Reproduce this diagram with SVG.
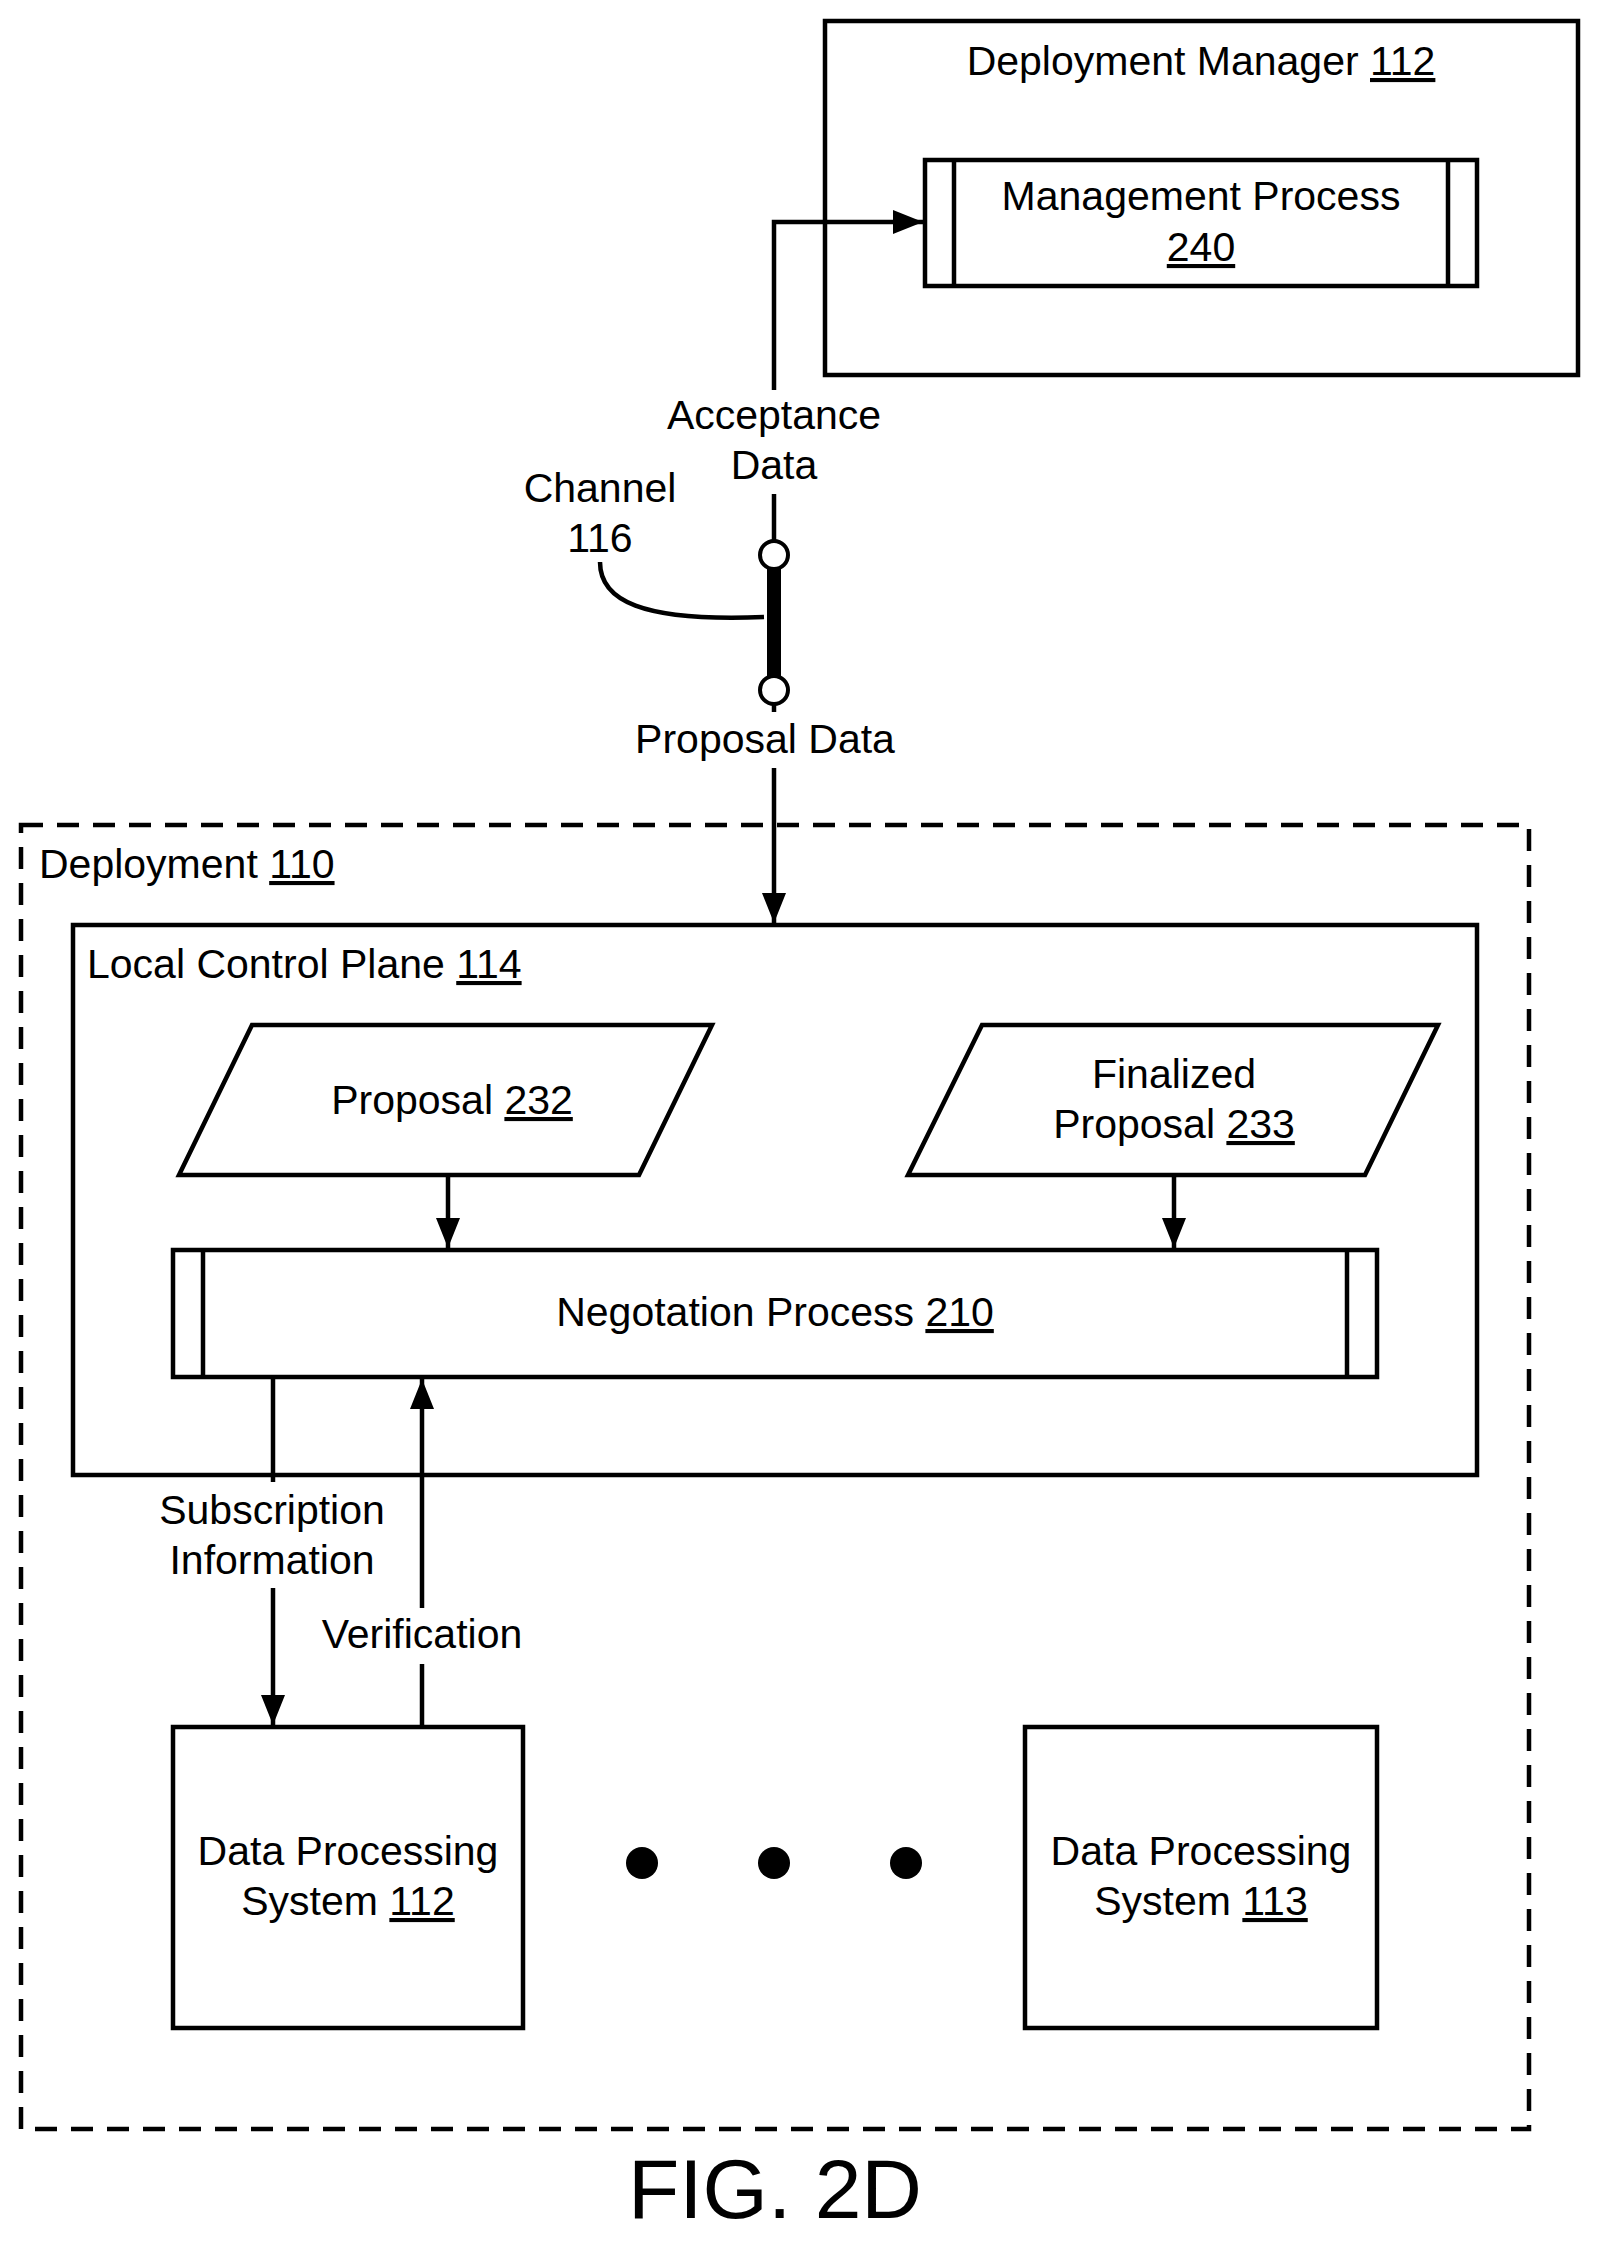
<svg xmlns="http://www.w3.org/2000/svg" width="1601" height="2244" viewBox="0 0 1601 2244">
<style>
text{font-family:"Liberation Sans",Arial,sans-serif;font-size:41px;fill:#000;text-anchor:middle}
.u{text-decoration:underline}
.b{fill:#fff;stroke:#000;stroke-width:4.5}
.l{fill:none;stroke:#000;stroke-width:4.5}
</style>
<defs>
<marker id="ah" viewBox="0 0 10 10" refX="10" refY="5" markerWidth="30" markerHeight="24" orient="auto" markerUnits="userSpaceOnUse" preserveAspectRatio="none"><path d="M0,0L10,5L0,10z"/></marker>
</defs>
<g id="deployment"><rect x="21" y="825" width="1508" height="1304" fill="none" stroke="#000" stroke-width="4.5" stroke-dasharray="22,14"/><text x="39" y="878" style="text-anchor:start">Deployment <tspan class="u">110</tspan></text></g>
<g id="dm"><rect class="b" x="825" y="21" width="753" height="354"/><text x="1201" y="75">Deployment Manager <tspan class="u">112</tspan></text></g>
<g id="mp"><rect class="b" x="925" y="160" width="552" height="126"/><line class="l" x1="954" y1="160" x2="954" y2="286"/><line class="l" x1="1448" y1="160" x2="1448" y2="286"/><text x="1201" y="210">Management Process</text><text x="1201" y="261" class="u">240</text></g>
<g id="lcp"><rect class="b" x="73" y="925" width="1404" height="550"/><text x="87" y="978" style="text-anchor:start">Local Control Plane <tspan class="u">114</tspan></text></g>
<g id="p232"><polygon class="b" points="252,1025 712,1025 639,1175 179,1175"/><text x="452" y="1114">Proposal <tspan class="u">232</tspan></text></g>
<g id="p233"><polygon class="b" points="982,1025 1438,1025 1365,1175 908,1175"/><text x="1174" y="1088">Finalized</text><text x="1174" y="1138">Proposal <tspan class="u">233</tspan></text></g>
<g id="np"><rect class="b" x="173" y="1250" width="1204" height="127"/><line class="l" x1="203" y1="1250" x2="203" y2="1377"/><line class="l" x1="1347" y1="1250" x2="1347" y2="1377"/><text x="775" y="1326">Negotation Process <tspan class="u">210</tspan></text></g>
<g id="dps112"><rect class="b" x="173" y="1727" width="350" height="301"/><text x="348" y="1865">Data Processing</text><text x="348" y="1915">System <tspan class="u">112</tspan></text></g>
<g id="dps113"><rect class="b" x="1025" y="1727" width="352" height="301"/><text x="1201" y="1865">Data Processing</text><text x="1201" y="1915">System <tspan class="u">113</tspan></text></g>
<g id="dots"><circle cx="642" cy="1863" r="16"/><circle cx="774" cy="1863" r="16"/><circle cx="906" cy="1863" r="16"/></g>
<g id="channel"><line x1="774" y1="555" x2="774" y2="690" stroke="#000" stroke-width="14"/><circle cx="774" cy="555" r="14" fill="#fff" stroke="#000" stroke-width="4"/><circle cx="774" cy="690" r="14" fill="#fff" stroke="#000" stroke-width="4"/><path class="l" d="M600,562 C600,600 640,622 764,617"/><text x="600" y="502">Channel</text><text x="600" y="552">116</text></g>
<g id="connectors">
<polyline class="l" points="774,390 774,222 923,222" marker-end="url(#ah)"/>
<polyline class="l" points="774,494 774,541"/>
<polyline class="l" points="774,704 774,712"/>
<polyline class="l" points="774,768 774,923" marker-end="url(#ah)"/>
<line class="l" x1="448" y1="1175" x2="448" y2="1248" marker-end="url(#ah)"/>
<line class="l" x1="1174" y1="1175" x2="1174" y2="1248" marker-end="url(#ah)"/>
<line class="l" x1="273" y1="1377" x2="273" y2="1482"/>
<line class="l" x1="273" y1="1588" x2="273" y2="1725" marker-end="url(#ah)"/>
<line class="l" x1="422" y1="1727" x2="422" y2="1664"/>
<line class="l" x1="422" y1="1608" x2="422" y2="1379" marker-end="url(#ah)"/>
</g>
<text x="774" y="429">Acceptance</text><text x="774" y="479">Data</text>
<text x="765" y="753">Proposal Data</text>
<text x="272" y="1524">Subscription</text><text x="272" y="1574">Information</text>
<text x="422" y="1648">Verification</text>
<text x="775" y="2218" style="font-size:84px">FIG. 2D</text>
</svg>
